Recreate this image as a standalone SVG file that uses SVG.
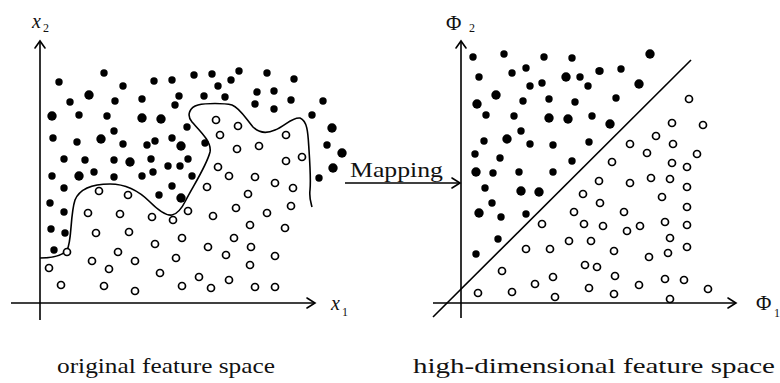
<svg xmlns="http://www.w3.org/2000/svg" width="780" height="383" viewBox="0 0 780 383">
<style>
.ax{stroke:#000;stroke-width:1.6;fill:none}
.hd{stroke:#000;stroke-width:1.6;fill:none;stroke-linecap:round;stroke-linejoin:miter}
.f{fill:#000}
.o{fill:#fff;stroke:#000;stroke-width:1.7}
.t{font-family:"Liberation Serif","Times New Roman",serif;fill:#111}
.i{font-style:italic}
</style>
<defs>
<circle id="f" r="3.7" class="f"/>
<circle id="b" r="4.7" class="f"/>
<circle id="o" r="3.5" class="o"/>
</defs>
<rect width="780" height="383" fill="#fff"/>

<g id="left-plot">
<line class="ax" x1="40" y1="41" x2="40" y2="320"/>
<polyline class="hd" points="35,48 40,41 45,48"/>
<line class="ax" x1="11" y1="303" x2="315" y2="303"/>
<polyline class="hd" points="307,298 315,303 307,308"/>
<text class="t i" x="32" y="28" font-size="20">x</text><text class="t" x="43" y="32" font-size="12">2</text>
<text class="t i" x="331" y="310" font-size="20">x</text><text class="t" x="342" y="316" font-size="12">1</text>
<path class="ax" d="M40,258 C52,258 62,256 67,250 C72,242 70,215 75,200 C80,188 95,184 110,184 C125,184 138,190 150,202 C158,210 166,216 172,215 C178,214 182,208 186,200 C192,188 207,165 210,152 C212,142 200,131 192,122 C186,115 190,107 198,105 C206,103 224,103 232,105 C240,108 246,119 253,127 C259,133 266,134 275,130 C285,126 292,117 300,118 C308,121 308,135 309,150 C310,165 311,180 310,190 C309,198 311,203 312,207"/>
<g id="left-filled">
<use href="#f" x="59" y="82"/><use href="#f" x="104" y="73"/><use href="#b" x="89" y="95"/><use href="#f" x="70" y="102"/><use href="#f" x="123" y="86"/><use href="#f" x="115" y="101"/><use href="#f" x="154" y="81"/><use href="#f" x="172" y="80"/><use href="#f" x="194" y="75"/><use href="#f" x="179" y="96"/><use href="#f" x="175" y="105"/><use href="#f" x="142" y="99"/>
<use href="#b" x="52" y="116"/><use href="#f" x="79" y="115"/><use href="#f" x="107" y="116"/><use href="#b" x="142" y="118"/><use href="#b" x="161" y="119"/><use href="#f" x="187" y="127"/><use href="#f" x="114" y="131"/><use href="#f" x="53" y="138"/><use href="#f" x="77" y="142"/><use href="#b" x="101" y="139"/><use href="#f" x="123" y="144"/><use href="#f" x="147" y="145"/><use href="#f" x="155" y="141"/><use href="#f" x="172" y="138"/><use href="#b" x="181" y="146"/>
<use href="#f" x="64" y="159"/><use href="#f" x="85" y="160"/><use href="#f" x="114" y="160"/><use href="#b" x="130" y="162"/><use href="#f" x="151" y="159"/><use href="#f" x="188" y="159"/><use href="#f" x="153" y="172"/><use href="#f" x="168" y="166"/><use href="#f" x="180" y="166"/><use href="#f" x="52" y="176"/><use href="#b" x="79" y="176"/><use href="#f" x="94" y="172"/><use href="#f" x="114" y="177"/><use href="#f" x="142" y="176"/><use href="#f" x="192" y="176"/>
<use href="#f" x="212" y="74"/><use href="#f" x="239" y="71"/><use href="#f" x="231" y="80"/><use href="#f" x="218" y="86"/><use href="#f" x="267" y="73"/><use href="#f" x="294" y="79"/><use href="#f" x="204" y="96"/><use href="#f" x="225" y="97"/><use href="#f" x="257" y="92"/><use href="#f" x="274" y="91"/><use href="#f" x="255" y="104"/><use href="#f" x="274" y="109"/><use href="#f" x="291" y="100"/><use href="#f" x="323" y="101"/><use href="#f" x="312" y="115"/><use href="#b" x="332" y="128"/><use href="#f" x="327" y="145"/><use href="#b" x="342" y="153"/><use href="#b" x="333" y="168"/><use href="#f" x="319" y="178"/><use href="#f" x="205" y="143"/>
<use href="#f" x="64" y="188"/><use href="#f" x="172" y="186"/><use href="#f" x="159" y="195"/><use href="#b" x="181" y="198"/><use href="#f" x="50" y="203"/><use href="#f" x="64" y="212"/><use href="#f" x="51" y="229"/><use href="#f" x="65" y="233"/><use href="#f" x="54" y="250"/>
</g>
<g id="left-open">
<use href="#o" x="216" y="120"/><use href="#o" x="238" y="126"/><use href="#o" x="220" y="135"/><use href="#o" x="286" y="135"/><use href="#o" x="259" y="146"/><use href="#o" x="237" y="149"/><use href="#o" x="302" y="157"/><use href="#o" x="286" y="161"/><use href="#o" x="218" y="167"/><use href="#o" x="229" y="176"/><use href="#o" x="255" y="177"/><use href="#o" x="275" y="183"/><use href="#o" x="293" y="188"/><use href="#o" x="207" y="187"/><use href="#o" x="248" y="194"/>
<use href="#o" x="99" y="191"/><use href="#o" x="128" y="195"/><use href="#o" x="88" y="213"/><use href="#o" x="120" y="214"/><use href="#o" x="152" y="217"/><use href="#o" x="173" y="220"/><use href="#o" x="188" y="211"/><use href="#o" x="96" y="233"/><use href="#o" x="129" y="232"/><use href="#o" x="182" y="238"/><use href="#o" x="155" y="244"/><use href="#o" x="67" y="252"/><use href="#o" x="118" y="252"/><use href="#o" x="92" y="261"/><use href="#o" x="135" y="261"/><use href="#o" x="176" y="258"/><use href="#o" x="49" y="268"/><use href="#o" x="109" y="269"/><use href="#o" x="160" y="273"/><use href="#o" x="199" y="277"/><use href="#o" x="61" y="285"/><use href="#o" x="104" y="286"/><use href="#o" x="135" y="291"/><use href="#o" x="182" y="286"/>
<use href="#o" x="213" y="216"/><use href="#o" x="236" y="208"/><use href="#o" x="267" y="213"/><use href="#o" x="291" y="206"/><use href="#o" x="250" y="225"/><use href="#o" x="285" y="228"/><use href="#o" x="208" y="247"/><use href="#o" x="234" y="238"/><use href="#o" x="226" y="255"/><use href="#o" x="251" y="247"/><use href="#o" x="275" y="256"/><use href="#o" x="250" y="265"/><use href="#o" x="211" y="288"/><use href="#o" x="229" y="280"/><use href="#o" x="255" y="287"/><use href="#o" x="275" y="287"/>
</g>
<text class="t" x="57" y="373" font-size="22" textLength="218" lengthAdjust="spacingAndGlyphs">original  feature space</text>
</g>

<g id="connectors">
<line class="ax" x1="345" y1="183" x2="460" y2="183"/>
<polyline class="hd" points="452,178 460,183 452,188"/>
<text class="t" x="350" y="177" font-size="21" textLength="93" lengthAdjust="spacingAndGlyphs">Mapping</text>
</g>

<g id="right-plot">
<line class="ax" x1="461" y1="41" x2="461" y2="318"/>
<polyline class="hd" points="456,48 461,41 466,48"/>
<line class="ax" x1="433" y1="303" x2="736" y2="303"/>
<polyline class="hd" points="728,298 736,303 728,308"/>
<line class="ax" x1="433" y1="317" x2="691" y2="60"/>
<text class="t" x="446" y="30" font-size="21">Φ</text><text class="t" x="469" y="32" font-size="12">2</text>
<text class="t" x="756" y="310" font-size="21">Φ</text><text class="t" x="774" y="317" font-size="12">1</text>
<g id="right-filled">
<use href="#f" x="473" y="57"/><use href="#f" x="504" y="54"/><use href="#f" x="544" y="57"/><use href="#f" x="572" y="58"/><use href="#f" x="599" y="71"/><use href="#f" x="479" y="77"/><use href="#f" x="512" y="73"/><use href="#f" x="526" y="68"/><use href="#b" x="566" y="77"/><use href="#f" x="580" y="77"/><use href="#f" x="588" y="86"/><use href="#f" x="530" y="86"/><use href="#f" x="542" y="83"/><use href="#b" x="496" y="95"/><use href="#b" x="477" y="104"/><use href="#f" x="523" y="101"/><use href="#f" x="549" y="99"/><use href="#f" x="575" y="102"/>
<use href="#f" x="486" y="115"/><use href="#f" x="514" y="116"/><use href="#b" x="549" y="118"/><use href="#b" x="568" y="119"/><use href="#f" x="592" y="116"/><use href="#f" x="521" y="131"/><use href="#f" x="484" y="141"/><use href="#b" x="507" y="139"/><use href="#f" x="530" y="144"/><use href="#f" x="553" y="145"/><use href="#f" x="589" y="142"/><use href="#f" x="475" y="154"/><use href="#f" x="500" y="158"/><use href="#f" x="572" y="161"/><use href="#b" x="476" y="172"/><use href="#f" x="493" y="173"/><use href="#f" x="519" y="172"/><use href="#f" x="553" y="172"/>
<use href="#b" x="650" y="54"/><use href="#f" x="600" y="71"/><use href="#f" x="621" y="69"/><use href="#b" x="639" y="84"/><use href="#f" x="616" y="98"/><use href="#b" x="610" y="124"/>
<use href="#f" x="485" y="188"/><use href="#b" x="521" y="191"/><use href="#b" x="539" y="192"/><use href="#f" x="492" y="203"/><use href="#b" x="479" y="213"/><use href="#f" x="501" y="217"/><use href="#f" x="526" y="214"/><use href="#f" x="498" y="239"/><use href="#f" x="476" y="254"/>
</g>
<g id="right-open">
<use href="#o" x="689" y="99"/><use href="#o" x="672" y="123"/><use href="#o" x="703" y="125"/><use href="#o" x="656" y="136"/><use href="#o" x="630" y="144"/><use href="#o" x="673" y="144"/><use href="#o" x="647" y="153"/><use href="#o" x="697" y="154"/><use href="#o" x="612" y="162"/><use href="#o" x="672" y="163"/><use href="#o" x="687" y="167"/><use href="#o" x="599" y="181"/><use href="#o" x="630" y="183"/><use href="#o" x="651" y="178"/><use href="#o" x="670" y="179"/><use href="#o" x="687" y="187"/>
<use href="#o" x="583" y="194"/><use href="#o" x="600" y="203"/><use href="#o" x="574" y="212"/><use href="#o" x="542" y="224"/><use href="#o" x="584" y="224"/><use href="#o" x="569" y="241"/><use href="#o" x="591" y="241"/><use href="#o" x="526" y="249"/><use href="#o" x="550" y="249"/><use href="#o" x="502" y="271"/><use href="#o" x="585" y="265"/><use href="#o" x="597" y="267"/><use href="#o" x="553" y="277"/><use href="#o" x="535" y="284"/><use href="#o" x="512" y="292"/><use href="#o" x="478" y="293"/><use href="#o" x="555" y="297"/><use href="#o" x="589" y="288"/>
<use href="#o" x="662" y="197"/><use href="#o" x="624" y="212"/><use href="#o" x="687" y="207"/><use href="#o" x="603" y="226"/><use href="#o" x="627" y="231"/><use href="#o" x="640" y="226"/><use href="#o" x="665" y="222"/><use href="#o" x="687" y="225"/><use href="#o" x="670" y="238"/><use href="#o" x="614" y="251"/><use href="#o" x="649" y="257"/><use href="#o" x="668" y="253"/><use href="#o" x="687" y="247"/><use href="#o" x="615" y="276"/><use href="#o" x="614" y="294"/><use href="#o" x="639" y="285"/><use href="#o" x="665" y="279"/><use href="#o" x="684" y="280"/><use href="#o" x="708" y="289"/><use href="#o" x="670" y="299"/>
</g>
<text class="t" x="413" y="373" font-size="22" textLength="362" lengthAdjust="spacingAndGlyphs">high-dimensional feature space</text>
</g>
</svg>
